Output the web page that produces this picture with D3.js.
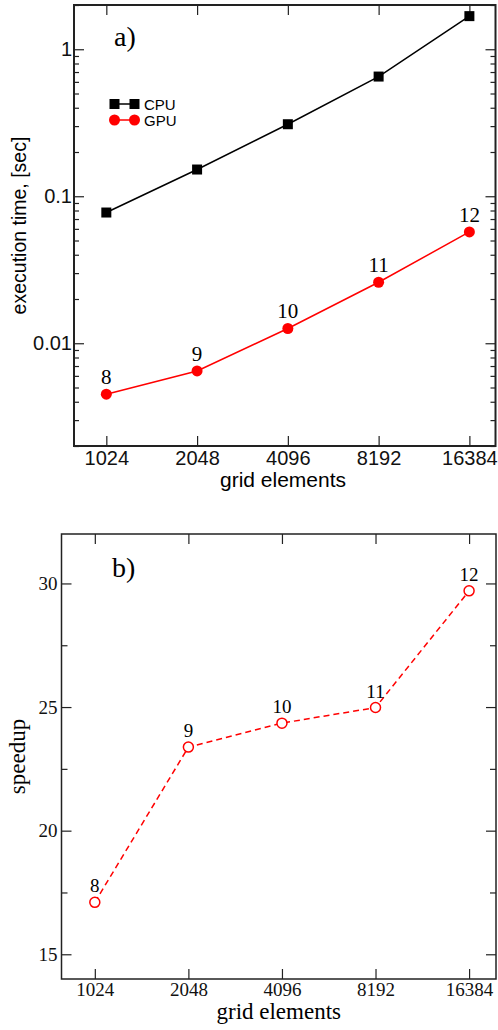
<!DOCTYPE html>
<html>
<head>
<meta charset="utf-8">
<script src="https://cdn.jsdelivr.net/npm/d3@7"></script>
<style>
  body { margin: 0; background: #fff; }
  .sans { font-family: "Liberation Sans", Arial, sans-serif; }
  .serif { font-family: "Liberation Serif", "Times New Roman", serif; }
  .frame { fill: none; stroke: #222; }
  .axis path { display: none; }
  .axis line { stroke: #222; stroke-width: 1.2; }
</style>
</head>
<body>
<svg id="canvas" width="498" height="1030"></svg>
<script>
// data
const gridElements = [1024, 2048, 4096, 8192, 16384];
const cpuTime = [0.0775, 0.152, 0.309, 0.652, 1.68];
const gpuTime = [0.0045, 0.00648, 0.0126, 0.026, 0.0572];
const speedup = [17.1, 23.38, 24.35, 24.98, 29.7];
const pointLabels = ['8', '9', '10', '11', '12'];
const timeTicks = [0.01, 0.1, 1];
const timeTickLabels = ['0.01', '0.1', '1'];
const speedupTicks = [15, 20, 25, 30];
const speedupMinor = [17.5, 22.5, 27.5];

const svg = d3.select('#canvas');

// ---------- panel a) ----------
const a = { left: 74, top: 5, right: 495.5, bottom: 446 };
const xa = d3.scaleLog().base(2).domain([800, 20000]).range([a.left, a.right]);
const ya = d3.scaleLog().domain([0.002, 2]).range([a.bottom, a.top]);

const ga = svg.append('g').attr('class', 'sans');

const yaMinor = ya.ticks().filter(v => !timeTicks.includes(v));

ga.append('g').attr('class', 'axis')
    .attr('transform', `translate(${a.left},0)`)
    .call(d3.axisLeft(ya).tickValues(yaMinor).tickSize(-5).tickFormat(''));
ga.append('g').attr('class', 'axis')
    .attr('transform', `translate(${a.right},0)`)
    .call(d3.axisRight(ya).tickValues(yaMinor).tickSize(-5).tickFormat(''));
ga.append('g').attr('class', 'axis')
    .attr('transform', `translate(${a.right},0)`)
    .call(d3.axisRight(ya).tickValues(timeTicks).tickSize(-10).tickFormat(''));

const yaMajor = ga.append('g').attr('class', 'axis')
    .attr('transform', `translate(${a.left},0)`)
    .call(d3.axisLeft(ya).tickValues(timeTicks).tickSize(-10).tickPadding(14)
        .tickFormat((d, i) => timeTickLabels[i]));
yaMajor.selectAll('text').attr('font-size', 20).attr('fill', '#111')
    .attr('x', -2).attr('font-family', '"Liberation Sans", Arial, sans-serif');

const xaBottom = ga.append('g').attr('class', 'axis')
    .attr('transform', `translate(0,${a.bottom})`)
    .call(d3.axisBottom(xa).tickValues(gridElements).tickSize(-10).tickPadding(6)
        .tickFormat(d3.format('d')));
xaBottom.selectAll('text').attr('font-size', 20).attr('fill', '#111')
    .attr('y', 5).attr('font-family', '"Liberation Sans", Arial, sans-serif');
ga.append('g').attr('class', 'axis')
    .attr('transform', `translate(0,${a.top})`)
    .call(d3.axisTop(xa).tickValues(gridElements).tickSize(-10).tickFormat(''));

ga.append('rect').attr('class', 'frame')
    .attr('x', a.left).attr('y', a.top)
    .attr('width', a.right - a.left).attr('height', a.bottom - a.top)
    .attr('stroke-width', 2);

const lineA = (vals) => d3.line()
    .x((d, i) => xa(gridElements[i]))
    .y(d => ya(d))(vals);

ga.append('path').attr('d', lineA(cpuTime))
    .attr('fill', 'none').attr('stroke', '#000').attr('stroke-width', 1.5);
ga.append('path').attr('d', lineA(gpuTime))
    .attr('fill', 'none').attr('stroke', '#f00').attr('stroke-width', 1.5);

ga.selectAll('rect.cpu').data(cpuTime).enter().append('rect')
    .attr('class', 'cpu')
    .attr('x', (d, i) => xa(gridElements[i]) - 5)
    .attr('y', d => ya(d) - 5)
    .attr('width', 10).attr('height', 10)
    .attr('fill', '#000');

ga.selectAll('circle.gpu').data(gpuTime).enter().append('circle')
    .attr('class', 'gpu')
    .attr('cx', (d, i) => xa(gridElements[i]))
    .attr('cy', d => ya(d))
    .attr('r', 5.5)
    .attr('fill', '#f00');

ga.selectAll('text.plab').data(gpuTime).enter().append('text')
    .attr('class', 'plab serif')
    .attr('x', (d, i) => xa(gridElements[i]))
    .attr('y', d => ya(d) - 10)
    .attr('text-anchor', 'middle')
    .attr('font-size', 21)
    .text((d, i) => pointLabels[i]);

ga.append('text').attr('class', 'serif')
    .attr('x', 114).attr('y', 46)
    .attr('font-size', 28)
    .text('a)');

// legend
const legend = [
    { name: 'CPU', color: '#000', y: 104, shape: 'square' },
    { name: 'GPU', color: '#f00', y: 120, shape: 'circle' }
];
legend.forEach(l => {
    ga.append('line')
        .attr('x1', 114.5).attr('x2', 134.5).attr('y1', l.y).attr('y2', l.y)
        .attr('stroke', l.color).attr('stroke-width', 1.5);
    [114.5, 134.5].forEach(cx => {
        if (l.shape === 'square')
            ga.append('rect').attr('x', cx - 5).attr('y', l.y - 5)
                .attr('width', 10).attr('height', 10).attr('fill', l.color);
        else
            ga.append('circle').attr('cx', cx).attr('cy', l.y)
                .attr('r', 5.5).attr('fill', l.color);
    });
    ga.append('text')
        .attr('x', 144).attr('y', l.y + 5.5)
        .attr('font-size', 15)
        .text(l.name);
});

ga.append('text')
    .attr('x', 283).attr('y', 487)
    .attr('text-anchor', 'middle').attr('font-size', 21)
    .text('grid elements');
ga.append('text')
    .attr('transform', `translate(26,${(a.top + a.bottom) / 2}) rotate(-90)`)
    .attr('text-anchor', 'middle').attr('font-size', 19.5)
    .text('execution time, [sec]');

// ---------- panel b) ----------
const b = { left: 61.5, top: 534, right: 496, bottom: 979 };
const xb = d3.scaleLog().base(2).domain([800, 20000]).range([b.left, b.right]);
const yb = d3.scaleLinear().domain([14, 32]).range([b.bottom, b.top]);

const gb = svg.append('g').attr('class', 'serif');

gb.append('g').attr('class', 'axis')
    .attr('transform', `translate(${b.left},0)`)
    .call(d3.axisLeft(yb).tickValues(speedupMinor).tickSize(-6).tickFormat(''));
gb.append('g').attr('class', 'axis')
    .attr('transform', `translate(${b.right},0)`)
    .call(d3.axisRight(yb).tickValues(speedupMinor).tickSize(-6).tickFormat(''));
gb.append('g').attr('class', 'axis')
    .attr('transform', `translate(${b.right},0)`)
    .call(d3.axisRight(yb).tickValues(speedupTicks).tickSize(-10).tickFormat(''));
const ybMajor = gb.append('g').attr('class', 'axis')
    .attr('transform', `translate(${b.left},0)`)
    .call(d3.axisLeft(yb).tickValues(speedupTicks).tickSize(-10).tickFormat(d3.format('d')));
ybMajor.selectAll('text').attr('font-size', 19).attr('fill', '#111')
    .attr('x', -4).attr('font-family', '"Liberation Serif", "Times New Roman", serif');

const xbBottom = gb.append('g').attr('class', 'axis')
    .attr('transform', `translate(0,${b.bottom})`)
    .call(d3.axisBottom(xb).tickValues(gridElements).tickSize(-10).tickFormat(d3.format('d')));
xbBottom.selectAll('text').attr('font-size', 19).attr('fill', '#111')
    .attr('y', 4).attr('font-family', '"Liberation Serif", "Times New Roman", serif');
gb.append('g').attr('class', 'axis')
    .attr('transform', `translate(0,${b.top})`)
    .call(d3.axisTop(xb).tickValues(gridElements).tickSize(-10).tickFormat(''));

gb.append('rect').attr('class', 'frame')
    .attr('x', b.left).attr('y', b.top)
    .attr('width', b.right - b.left).attr('height', b.bottom - b.top)
    .attr('stroke-width', 1.5);

gb.append('path')
    .attr('d', d3.line()
        .x((d, i) => xb(gridElements[i]))
        .y(d => yb(d))(speedup))
    .attr('fill', 'none').attr('stroke', '#f00').attr('stroke-width', 1.5)
    .attr('stroke-dasharray', '6,4');

gb.selectAll('circle.sp').data(speedup).enter().append('circle')
    .attr('class', 'sp')
    .attr('cx', (d, i) => xb(gridElements[i]))
    .attr('cy', d => yb(d))
    .attr('r', 5)
    .attr('fill', '#fff').attr('stroke', '#f00').attr('stroke-width', 1.5);

gb.selectAll('text.plab').data(speedup).enter().append('text')
    .attr('class', 'plab')
    .attr('x', (d, i) => xb(gridElements[i]))
    .attr('y', d => yb(d) - 10)
    .attr('text-anchor', 'middle')
    .attr('font-size', 19)
    .text((d, i) => pointLabels[i]);

gb.append('text')
    .attr('x', 112).attr('y', 577)
    .attr('font-size', 28)
    .text('b)');

gb.append('text')
    .attr('x', (b.left + b.right) / 2).attr('y', 1019)
    .attr('text-anchor', 'middle').attr('font-size', 23)
    .text('grid elements');
gb.append('text')
    .attr('transform', `translate(25,${(b.top + b.bottom) / 2}) rotate(-90)`)
    .attr('text-anchor', 'middle').attr('font-size', 23)
    .text('speedup');
</script>
</body>
</html>
